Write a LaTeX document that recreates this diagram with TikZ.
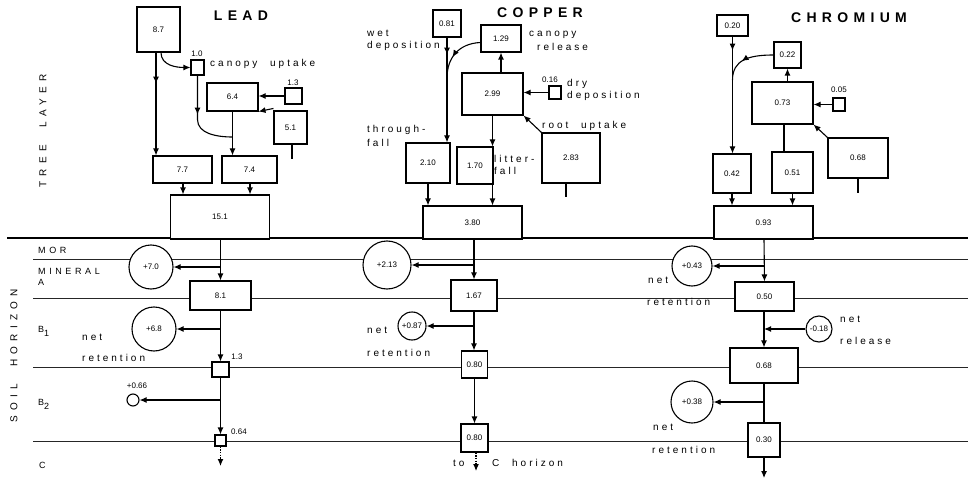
\documentclass[tikz,border=0pt]{standalone}
\usepackage{fontspec}
\setmainfont{Liberation Sans}
\newfontfamily\numfam{Liberation Sans}
\newfontfamily\spfam[LetterSpace=30,WordSpace=2.2]{Liberation Sans}
\newfontfamily\sdfam[LetterSpace=40]{Liberation Sans}
\newfontfamily\ttlfam[LetterSpace=38]{Liberation Sans}
\newfontfamily\vfam[LetterSpace=52,WordSpace=2.2]{Liberation Sans}
\usetikzlibrary{arrows.meta,decorations.markings}
\newcommand\numf{\numfam\fontsize{8}{9}\selectfont}
\newcommand\lblf{\spfam\fontsize{10}{11}\selectfont}
\newcommand\sdf{\sdfam\fontsize{9}{10}\selectfont}
\newcommand\ttlf{\ttlfam\bfseries\fontsize{14}{16}\selectfont}
\newcommand\vf{\vfam\fontsize{10}{11}\selectfont}
\newcommand\bxn[6]{\node[bx,minimum width=#4pt,minimum height=#5pt] (#1) at (#2,#3) {#6};}
\newcommand\crn[5]{\node[crc,minimum size=#4pt] (#1) at (#2,#3) {#5};}
\tikzset{
  bx/.style={draw,fill=white,line width=1.1pt,inner sep=0pt,font=\numf},
  crc/.style={circle,draw,fill=white,line width=1.1pt,inner sep=0pt,font=\numf},
  ln/.style={line width=1.1pt},
  arr/.style={ln,-{Latex[length=7pt,width=6pt]}},
  midarr/.style={postaction={decorate},decoration={markings,mark=at position #1 with {\arrow{Latex[length=7pt,width=6pt]}}}},
  lbl/.style={font=\lblf,anchor=west,inner sep=0pt},
  sml/.style={font=\numf,inner sep=0pt},
  sd/.style={font=\sdf,anchor=west,inner sep=0pt},
  ttl/.style={font=\ttlf,inner sep=0pt},
  hl/.style={line width=0.8pt,black!85},
  dotl/.style={dash pattern=on 1.5pt off 1.2pt}
}
\begin{document}
\begin{tikzpicture}[x=1pt,y=-1pt]
\useasboundingbox (0,0) rectangle (968,481);
% horizon lines
\coordinate (g0a) at (7,238);   \coordinate (g0b) at (968,238);
\coordinate (g1a) at (33,259);  \coordinate (g1b) at (968,259);
\coordinate (g2a) at (33,298);  \coordinate (g2b) at (968,298);
\coordinate (g3a) at (33,367);  \coordinate (g3b) at (968,367);
\coordinate (g4a) at (33,441);  \coordinate (g4b) at (968,441);
\draw[line width=1.4pt] (g0a) -- (g0b);
\draw[hl] (g1a) -- (g1b);
\draw[hl] (g2a) -- (g2b);
\draw[hl] (g3a) -- (g3b);
\draw[hl] (g4a) -- (g4b);
% side labels
\node[font=\vf,rotate=90,inner sep=0pt] (tl) at (43,131) {TREE LAYER};
\node[font=\vf,rotate=90,inner sep=0pt] (sh) at (14,356) {SOIL HORIZON};
\node[sd] (s1) at (38,250) {MOR};
\node[sd] (s2) at (38,271) {MINERAL};
\node[sd] (s3) at (38,282) {A};
\node[sd] (s4) at (38,331) {B\raisebox{-4pt}{1}};
\node[sd] (s5) at (38,404) {B\raisebox{-4pt}{2}};
\node[sd] (s6) at (39,465) {C};
% titles
\node[ttl] (tLead) at (241,16) {LEAD};
\node[ttl] (tCu) at (540,13) {COPPER};
\node[ttl] (tCr) at (849,18) {CHROMIUM};

% ================= LEAD =================
\bxn{L87}{158.5}{29.5}{43}{45}{8.7}
\bxn{Lcu}{197.5}{67.5}{13}{15}{}
\bxn{L64}{232.5}{97}{51}{28}{6.4}
\bxn{L13}{293.5}{96}{17}{16}{}
\bxn{L51}{290.5}{127.5}{33}{33}{5.1}
\bxn{L77}{182.5}{169.5}{59}{27}{7.7}
\bxn{L74}{249.5}{169.5}{55}{27}{7.4}
\bxn{L151}{220}{217}{99}{44}{15.1}
\bxn{L81}{220.5}{295.5}{61}{29}{8.1}
\bxn{Ls13}{220.5}{369.5}{17}{15}{}
\bxn{Ls064}{220.5}{440.5}{11}{11}{}
\crn{Lc1}{151}{267}{44}{+7.0}
\crn{Lc2}{154}{329}{44}{+6.8}
\crn{Lc3}{133}{400}{12}{}
\node[sml] (lL10) at (197,54) {1.0};
\node[sml] (lL13) at (293,83) {1.3};
\node[sml] (lLs13) at (237,357) {1.3};
\node[sml] (lLs064) at (239,432) {0.64};
\node[sml] (lLc3) at (137,386) {+0.66};
\node[lbl] (tcu) at (210,64) {canopy uptake};
\node[lbl] (tLn) at (82,337) {net};
\node[lbl] (tLr) at (82,358) {retention};
\coordinate (Lj) at (232.5,137);
\coordinate (Lend) at (220.5,466);
\coordinate (Lst) at (292,159);
\draw[arr,midarr=31pt] ([xshift=-2.5pt]L87.south) -- ([xshift=-2.5pt]L87.south |- L77.north);
\draw[arr] ([xshift=2.5pt]L87.south) .. controls +(0,13) and +(-14,0) .. (Lcu.west);
\draw[ln,midarr=39pt] (Lcu.south) -- ++(0,44) .. controls +(0,14) and +(-16,0) .. (Lj);
\draw[arr] (L64.south) -- (L64.south |- L74.north);
\draw[arr] (L13.west) -- (L13.west -| L64.east);
\draw[arr] ([yshift=2pt]L51.north west) -- (L64.south east);
\draw[ln] ([xshift=1.5pt]L51.south) -- (Lst);
\draw[arr] ([xshift=0.5pt]L77.south) -- ([xshift=0.5pt]L77.south |- L151.north);
\draw[arr] ([xshift=0.5pt]L74.south) -- ([xshift=0.5pt]L74.south |- L151.north);
\draw[arr] (L81.north |- L151.south) -- (L81.north);
\draw[arr] (L81.north |- Lc1) -- (Lc1);
\draw[arr] (L81.south) -- (Ls13.north);
\draw[arr] (L81.south |- Lc2) -- (Lc2);
\draw[arr] (Ls13.south) -- (Ls064.north);
\draw[arr] (Ls13.south |- Lc3) -- (Lc3);
\draw[arr,dotl] (Ls064.south) -- (Lend);

% ================= COPPER =================
\bxn{C081}{447}{23.5}{28}{27}{0.81}
\bxn{C129}{501}{38.5}{40}{27}{1.29}
\bxn{C299}{492.5}{94}{61}{42}{2.99}
\bxn{C016}{555}{92.5}{12}{13}{}
\bxn{C283}{571}{158}{58}{50}{2.83}
\bxn{C210}{428}{163}{44}{40}{2.10}
\bxn{C170}{475}{165.5}{36}{37}{1.70}
\bxn{C380}{472.5}{222.5}{99}{33}{3.80}
\bxn{C167}{474}{295.5}{46}{31}{1.67}
\bxn{C080a}{474.5}{364.5}{26}{27}{0.80}
\bxn{C080b}{474.5}{438}{27}{28}{0.80}
\crn{Cc1}{387}{265}{48}{+2.13}
\crn{Cc2}{412}{326}{28}{+0.87}
\node[sml] (lC016) at (550,80) {0.16};
\node[lbl] (tw1) at (367,33) {wet};
\node[lbl] (tw2) at (367,46) {deposition};
\node[lbl] (tc1) at (529,35) {canopy};
\node[lbl] (tc2) at (537,47) {release};
\node[lbl] (td1) at (567,84) {dry};
\node[lbl] (td2) at (567,96) {deposition};
\node[lbl] (tru) at (542,126) {root uptake};
\node[lbl] (tt1) at (367,130) {through-};
\node[lbl] (tt2) at (367,143) {fall};
\node[lbl] (tf1) at (494,159) {litter-};
\node[lbl] (tf2) at (494,171) {fall};
\node[lbl] (tCn) at (367,330) {net};
\node[lbl] (tCr2) at (367,353) {retention};
\node[lbl] (tto) at (453,463) {to};
\node[lbl] (tCh) at (492,463) {C horizon};
\coordinate (Cj) at (447,78);
\coordinate (Cend) at (476,471);
\coordinate (Cst) at (566,197);
\draw[arr,midarr=17pt] (C081.south) -- (C081.south |- C210.north);
\draw[ln,midarr=0.6] ([yshift=-4pt]C129.west) .. controls +(-22,1) and +(0,-20) .. (Cj);
\draw[arr] (C129.south |- C299.north) -- (C129.south);
\draw[arr] (C016.west) -- (C016.west -| C299.east);
\draw[arr] (C283.north west) -- (C299.south east);
\draw[ln] ([xshift=-5pt]C283.south) -- (Cst);
\draw[arr] (C299.south) -- (C299.south |- C170.north);
\draw[arr] (C299.south |- C170.south) -- (C299.south |- C380.north);
\draw[arr] (C210.south) -- (C210.south |- C380.north);
\draw[arr] (C167.north |- C380.south) -- (C167.north);
\draw[arr] (C167.north |- Cc1) -- (Cc1);
\draw[arr] (C167.south) -- (C167.south |- C080a.north);
\draw[arr] (C167.south |- Cc2) -- (Cc2);
\draw[arr] (C080a.south) -- (C080b.north);
\draw[arr,dotl] ([xshift=1.5pt]C080b.south) -- (Cend);

% ================= CHROMIUM =================
\bxn{R020}{732.5}{25.5}{31}{21}{0.20}
\bxn{R022}{787.5}{55}{27}{26}{0.22}
\bxn{R073}{782.5}{103}{61}{42}{0.73}
\bxn{R005}{839}{104.5}{12}{13}{}
\bxn{R068}{858}{158}{60}{40}{0.68}
\bxn{R042}{732}{173.5}{38}{39}{0.42}
\bxn{R051}{792.5}{172.5}{41}{41}{0.51}
\bxn{R093}{763.5}{222.5}{99}{33}{0.93}
\bxn{R050}{764.5}{296.5}{59}{29}{0.50}
\bxn{R068s}{764}{365.5}{68}{35}{0.68}
\bxn{R030}{764}{440}{32}{34}{0.30}
\crn{Rc1}{692}{266}{40}{+0.43}
\crn{Rc2}{819}{329}{26}{-0.18}
\crn{Rc3}{692}{402}{42}{+0.38}
\node[sml] (lR005) at (839,90) {0.05};
\node[lbl] (tR1n) at (648,280) {net};
\node[lbl] (tR1r) at (647,302) {retention};
\node[lbl] (tR2n) at (840,319) {net};
\node[lbl] (tR2r) at (840,341) {release};
\node[lbl] (tR3n) at (653,427) {net};
\node[lbl] (tR3r) at (652,450) {retention};
\coordinate (Rj) at (732.5,80);
\coordinate (Rend) at (764,478);
\coordinate (Rst) at (858,193);
\draw[arr,midarr=14pt] (R020.south) -- (R020.south |- R042.north);
\draw[ln,midarr=0.6] (R022.west) .. controls +(-25,0) and +(0,-20) .. (Rj);
\draw[arr] (R022.south |- R073.north) -- (R022.south);
\draw[arr] (R005.west) -- (R005.west -| R073.east);
\draw[arr] (R068.north west) -- (R073.south east);
\draw[ln] (R068.south) -- (Rst);
\draw[ln] ([xshift=1.5pt]R073.south) -- ([xshift=1.5pt]R073.south |- R051.north);
\draw[arr] (R042.south) -- (R042.south |- R093.north);
\draw[arr] (R051.south) -- (R051.south |- R093.north);
\draw[arr] (R068s.north |- R093.south) -- (R050.south |- R050.north);
\draw[arr] (R068s.north |- Rc1) -- (Rc1);
\draw[arr] (R068s.north |- R050.south) -- (R068s.north);
\draw[arr] (Rc2) -- (R068s.north |- Rc2);
\draw[ln] (R068s.south) -- (R030.north);
\draw[arr] (R068s.south |- Rc3) -- (Rc3);
\draw[arr] (R030.south) -- (Rend);
\end{tikzpicture}
\end{document}
